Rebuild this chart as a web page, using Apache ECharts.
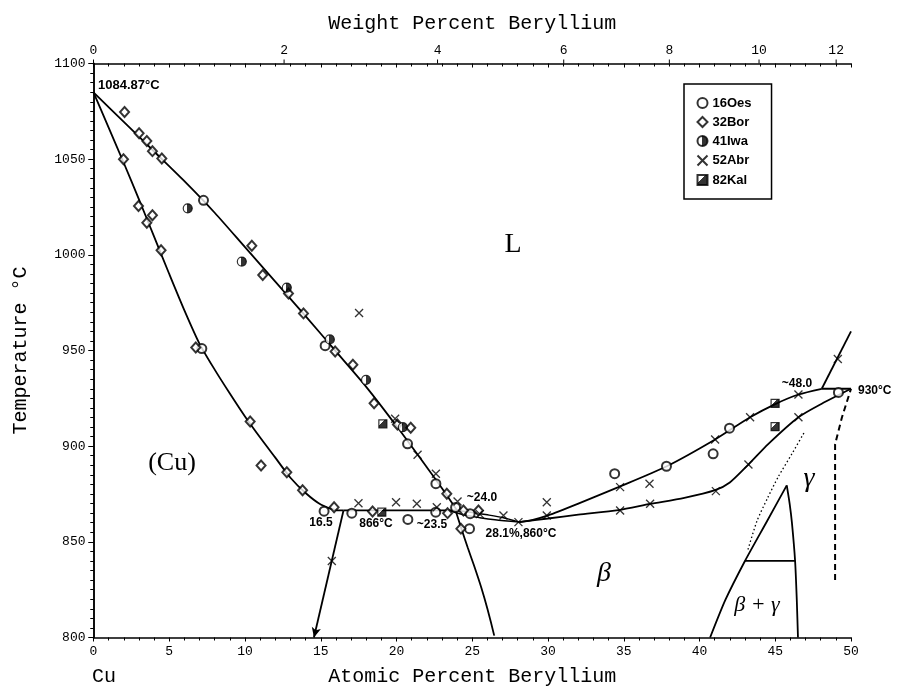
<!DOCTYPE html>
<html><head><meta charset="utf-8">
<script src="https://cdn.jsdelivr.net/npm/echarts@6/dist/echarts.min.js"></script>
<style>html,body{margin:0;padding:0;background:#fff}#c{width:899px;height:688px}</style>
</head><body><div id="c"></div>
<script>
// ---- axis ticks ----
const weightTicks = [0, 2, 4, 6, 8, 10, 12];

// ---- phase boundary lines (atomic % Be, °C) ----
const liquidusCu = [[0,1084.87],[2,1069.5],[4,1054],[6,1038.5],[8,1022],[10,1004],[12,986],[14,968],[16,949.5],[18,931],[20,910.5],[22,889],[23,878],[24,866.4]];
const solidusCu = [[0,1084.87],[1,1066.5],[2,1048],[3,1029],[4,1009.5],[5,990],[6,971],[7,953.5],[8,940],[9,927.5],[10,915.5],[11,904.5],[12,894],[13,883.5],[14,875.5],[15,869.5],[16,866.6],[16.5,866.4]];
const peritectic866 = [[16.5,866.4],[24.3,866.4]];
const solvusCu = [[16.5,866.4],[14.55,800]];
const solvusBeta = [[23.9,866.4],[24.3,856.5],[24.7,847],[25.1,838],[25.6,826],[26.0,815],[26.45,801]];
const betaLiqLeft = [[24.0,866.4],[25,865.3],[26,864.1],[27,862.7],[28.1,860.3]];
const betaSolLeft = [[23.5,866.4],[24.5,864],[25.5,862.6],[26.5,861.5],[28.1,860.3]];
const betaLiqRight = [[28.1,860.3],[29,861.5],[30,863.8],[32,870],[34.65,878.6],[37.84,889.5],[41.03,903.5],[43.34,915.1],[45,922],[46.53,927],[48.07,930]];
const betaSolRight = [[28.1,860.3],[30,862.2],[32,864.2],[34.65,866.6],[36.74,869.8],[39,873],[41.03,877],[42,881],[43.23,890.4],[44.55,901.2],[46.53,915.1],[48.07,922.2],[50,930]];
const peritectic930 = [[48.07,930],[50,930]];
const gammaLiquidus = [[48.07,930],[50,960]];
const bgLeft = [[40.7,800],[41.7,819.5],[43.0,840],[44.4,860],[45.76,879.5]];
const bgRight = [[45.76,879.5],[45.95,870],[46.1,860],[46.31,840],[46.42,820],[46.5,800]];
const eutectoid840 = [[43.0,840],[46.31,840]];
const dottedLine = [[43.2,846],[43.8,861],[44.5,873],[45.2,884],[46.1,896],[46.9,907]];
const dashedLine = [[48.95,830],[48.95,901],[49.4,915],[50,930]];

// ---- experimental points ----
const oes16 = [[7.26,1028.5],[7.15,951],[15.29,952.5],[20.73,901.2],[22.6,880.4],[23.9,868],[24.86,864.7],[15.22,866],[17.05,865],[20.75,861.7],[22.59,865.5],[24.82,856.9],[34.4,885.6],[37.82,889.5],[40.9,896],[41.98,909.4],[49.17,928.1]];
const bor32 = [[2.05,1074.6],[3.01,1063.5],[3.52,1059.5],[3.89,1054.2],[4.51,1050.4],[10.45,1004.7],[11.17,989.5],[12.87,979.8],[13.86,969.4],[15.95,949.5],[17.12,942.6],[18.52,922.4],[20.06,911.3],[20.94,909.6],[23.32,875.1],[1.98,1050],[2.97,1025.5],[3.89,1020.7],[3.52,1016.8],[4.46,1002.4],[6.75,951.6],[10.34,912.9],[11.06,889.9],[12.76,886.4],[13.8,876.9],[15.88,868.1],[18.42,865.9],[23.37,865],[24.42,866.4],[25.41,866.4],[24.25,856.9]];
const iwa41 = [[6.22,1024.3],[9.79,996.5],[12.76,982.9],[15.6,955.8],[17.99,934.6],[20.42,909.9]];
const abr52 = [[17.53,969.6],[19.91,914.3],[21.39,895.5],[22.6,885.6],[24.03,871.1],[17.49,870.2],[19.97,870.7],[21.34,869.9],[22.66,868.1],[25.5,864.5],[27.06,863.8],[28.05,860.3],[15.73,840],[29.92,870.7],[29.92,863.8],[34.76,878.6],[36.7,880.4],[34.76,866.4],[36.74,869.9],[41.03,903.5],[43.34,915.1],[43.23,890.4],[41.08,876.5],[46.53,927],[46.53,915.1],[49.13,945.6]];
const kal82 = [[19.1,911.7],[19.03,865.5],[44.99,922.4],[44.99,910.2]];

// weight % -> atomic %
function wtToAt(w){ const be=w/9.012, cu=(100-w)/63.546; return 100*be/(be+cu); }

const MONO = '"Liberation Mono", monospace';
const SANS = '"Liberation Sans", Arial, sans-serif';
const SERIF = '"Liberation Serif", serif';

function lineSeries(data, opts){
  opts = opts || {};
  return Object.assign({
    type:'line', data:data, symbol:'none', silent:true, z:1,
    smooth: opts.smooth || false,
    lineStyle:{color:'#000', width: opts.width || 1.8, type: opts.type || 'solid'},
    xAxisIndex:0, yAxisIndex:0
  }, opts.extra || {});
}

const chart = echarts.init(document.getElementById('c'), null, {renderer:'canvas'});
const grid = {left:93.5, top:63.5, width:757.5, height:574, containLabel:false, outerBoundsMode:'none'};
const plain = v => String(v);

const option = {
  animation:false,
  backgroundColor:'#fff',
  grid: grid,
  xAxis:[
    {type:'value', position:'bottom', min:0, max:50, interval:5,
     name:'Atomic Percent Beryllium', nameLocation:'middle', nameGap:29,
     nameTextStyle:{fontFamily:MONO, fontSize:20, color:'#000'},
     axisLine:{lineStyle:{color:'#000', width:1.5}},
     axisTick:{show:true, inside:false, length:4, lineStyle:{color:'#000'}},
     minorTick:{show:true, splitNumber:5, length:3, lineStyle:{color:'#000'}},
     axisLabel:{fontFamily:MONO, fontSize:13, color:'#000', margin:8, formatter:plain},
     splitLine:{show:false}},
    {type:'value', position:'top', min:0, max:50, interval:5,
     name:'Weight Percent Beryllium', nameLocation:'middle', nameGap:30,
     nameTextStyle:{fontFamily:MONO, fontSize:20, color:'#000'},
     axisLine:{lineStyle:{color:'#000', width:1.5}},
     axisTick:{show:true, inside:true, length:4, lineStyle:{color:'#000'}},
     minorTick:{show:true, splitNumber:5, length:3, lineStyle:{color:'#000'}},
     axisLabel:{show:false}, splitLine:{show:false}}
  ],
  yAxis:[
    {type:'value', position:'left', min:800, max:1100, interval:50,
     name:'Temperature °C', nameLocation:'middle', nameGap:63,
     nameTextStyle:{fontFamily:MONO, fontSize:20, color:'#000'},
     axisLine:{show:true, lineStyle:{color:'#000', width:1.5}},
     axisTick:{show:true, inside:false, length:5, lineStyle:{color:'#000'}},
     minorTick:{show:true, splitNumber:10, length:3, lineStyle:{color:'#000'}},
     axisLabel:{fontFamily:MONO, fontSize:13, color:'#000', margin:8, formatter:plain},
     splitLine:{show:false}},
    {type:'value', position:'right', min:800, max:1100, interval:50,
     axisLine:{show:true, lineStyle:{color:'#000', width:1.5}},
     axisTick:{show:true, inside:true, length:5, lineStyle:{color:'#000'}},
     minorTick:{show:true, splitNumber:10, length:3, lineStyle:{color:'#000'}},
     axisLabel:{show:false}, splitLine:{show:false}}
  ],
  legend:{
    data:['16Oes','32Bor','41Iwa','52Abr','82Kal'],
    orient:'vertical', left:684, top:84,
    borderColor:'#000', borderWidth:1.5, borderRadius:0,
    padding:[12,20,12,11], itemWidth:10, itemHeight:10, itemGap:5, itemTextGap:10,
    textStyle:{fontFamily:SANS, fontWeight:'bold', fontSize:13, color:'#000', lineHeight:14},
    selectedMode:false
  },
  series:[
    lineSeries(liquidusCu, {smooth:0.25}),
    lineSeries(solidusCu, {smooth:0.25}),
    lineSeries(peritectic866),
    lineSeries(solvusCu, {extra:{
      data:[solvusCu[0], {value:solvusCu[1], symbol:'arrow', symbolSize:[7,10], symbolRotate:166, itemStyle:{color:'#000'}}],
      showSymbol:true, symbol:'none'}}),
    lineSeries(solvusBeta, {smooth:0.25}),
    lineSeries(betaLiqLeft, {smooth:0.25, width:1.5}),
    lineSeries(betaSolLeft, {smooth:0.25, width:1.5}),
    lineSeries(betaLiqRight, {smooth:0.25}),
    lineSeries(betaSolRight, {smooth:0.25}),
    lineSeries(peritectic930),
    lineSeries(gammaLiquidus),
    lineSeries(bgLeft, {smooth:0.2}),
    lineSeries(bgRight, {smooth:0.2}),
    lineSeries(eutectoid840),
    lineSeries(dottedLine, {smooth:0.25, width:1.3, type:[1.5,2.5]}),
    lineSeries(dashedLine, {width:2, type:[6,4]}),
    {
      type:'custom', xAxisIndex:1, yAxisIndex:0, silent:true, clip:false,
      data: weightTicks.map(w => [wtToAt(w), w]),
      renderItem: function(params, api){
        const p = api.coord([api.value(0), 1100]);
        return {type:'group', children:[
          {type:'line', shape:{x1:p[0], y1:p[1], x2:p[0], y2:p[1]-4}, style:{stroke:'#000', lineWidth:1}},
          {type:'text', x:p[0], y:p[1]-6, style:{text:String(api.value(1)), align:'center', verticalAlign:'bottom', textAlign:'center', textVerticalAlign:'bottom', fontFamily:MONO, fontSize:13, fill:'#000'}}
        ]};
      }
    },
    {name:'16Oes', type:'scatter', data:oes16, symbol:'emptyCircle', symbolSize:9, z:3,
     itemStyle:{color:'#000', borderColor:'#000', borderWidth:1.2}},
    {name:'32Bor', type:'scatter', data:bor32, symbol:'emptyDiamond', symbolSize:[9,10], z:3,
     itemStyle:{color:'#000', borderColor:'#000', borderWidth:1.2}},
    {name:'41Iwa', type:'scatter', data:iwa41, symbol:'circle', symbolSize:9, z:3,
     itemStyle:{color:{type:'linear', x:0, y:0, x2:1, y2:0, colorStops:[{offset:0,color:'#fff'},{offset:0.45,color:'#fff'},{offset:0.45,color:'#000'},{offset:1,color:'#000'}]}, borderColor:'#000', borderWidth:1.2}},
    {name:'52Abr', type:'scatter', data:abr52, symbol:'path://M0,0L10,10M10,0L0,10', symbolSize:8, z:3,
     itemStyle:{color:'none', borderColor:'#000', borderWidth:1.3}},
    {name:'82Kal', type:'scatter', data:kal82, symbol:'rect', symbolSize:8, z:3,
     itemStyle:{color:{type:'linear', x:0, y:0, x2:1, y2:1, colorStops:[{offset:0,color:'#fff'},{offset:0.4,color:'#fff'},{offset:0.4,color:'#000'},{offset:1,color:'#000'}]}, borderColor:'#000', borderWidth:1.2}}
  ],
  graphic:[
    {type:'text', x:98, y:85, style:{text:'1084.87°C', fontFamily:SANS, fontWeight:'bold', fontSize:13, fill:'#000', align:'left', verticalAlign:'middle', textAlign:'left', textVerticalAlign:'middle'}},
    {type:'text', x:172, y:463, style:{text:'(Cu)', fontFamily:SERIF, fontSize:26, fill:'#000', align:'center', verticalAlign:'middle', textAlign:'center', textVerticalAlign:'middle'}},
    {type:'text', x:513, y:245, style:{text:'L', fontFamily:SERIF, fontSize:28, fill:'#000', align:'center', verticalAlign:'middle', textAlign:'center', textVerticalAlign:'middle'}},
    {type:'text', x:604, y:574, style:{text:'β', fontFamily:SERIF, fontStyle:'italic', fontSize:28, fill:'#000', align:'center', verticalAlign:'middle', textAlign:'center', textVerticalAlign:'middle'}},
    {type:'text', x:809, y:479, style:{text:'γ', fontFamily:SERIF, fontStyle:'italic', fontSize:28, fill:'#000', align:'center', verticalAlign:'middle', textAlign:'center', textVerticalAlign:'middle'}},
    {type:'text', x:757, y:605, style:{text:'β + γ', fontFamily:SERIF, fontStyle:'italic', fontSize:22, fill:'#000', align:'center', verticalAlign:'middle', textAlign:'center', textVerticalAlign:'middle'}},
    {type:'text', x:321, y:523, style:{text:'16.5', fontFamily:SANS, fontWeight:'bold', fontSize:12, fill:'#000', align:'center', verticalAlign:'middle', textAlign:'center', textVerticalAlign:'middle'}},
    {type:'text', x:376, y:524, style:{text:'866°C', fontFamily:SANS, fontWeight:'bold', fontSize:12, fill:'#000', align:'center', verticalAlign:'middle', textAlign:'center', textVerticalAlign:'middle'}},
    {type:'text', x:432, y:525, style:{text:'~23.5', fontFamily:SANS, fontWeight:'bold', fontSize:12, fill:'#000', align:'center', verticalAlign:'middle', textAlign:'center', textVerticalAlign:'middle'}},
    {type:'text', x:482, y:498, style:{text:'~24.0', fontFamily:SANS, fontWeight:'bold', fontSize:12, fill:'#000', align:'center', verticalAlign:'middle', textAlign:'center', textVerticalAlign:'middle'}},
    {type:'text', x:521, y:534, style:{text:'28.1%,860°C', fontFamily:SANS, fontWeight:'bold', fontSize:12, fill:'#000', align:'center', verticalAlign:'middle', textAlign:'center', textVerticalAlign:'middle'}},
    {type:'text', x:797, y:384, style:{text:'~48.0', fontFamily:SANS, fontWeight:'bold', fontSize:12, fill:'#000', align:'center', verticalAlign:'middle', textAlign:'center', textVerticalAlign:'middle'}},
    {type:'text', x:858, y:391, style:{text:'930°C', fontFamily:SANS, fontWeight:'bold', fontSize:12, fill:'#000', align:'left', verticalAlign:'middle', textAlign:'left', textVerticalAlign:'middle'}},
    {type:'text', x:104, y:677, style:{text:'Cu', fontFamily:MONO, fontSize:20, fill:'#000', align:'center', verticalAlign:'middle', textAlign:'center', textVerticalAlign:'middle'}}
  ]
};
chart.setOption(option);
</script></body></html>
